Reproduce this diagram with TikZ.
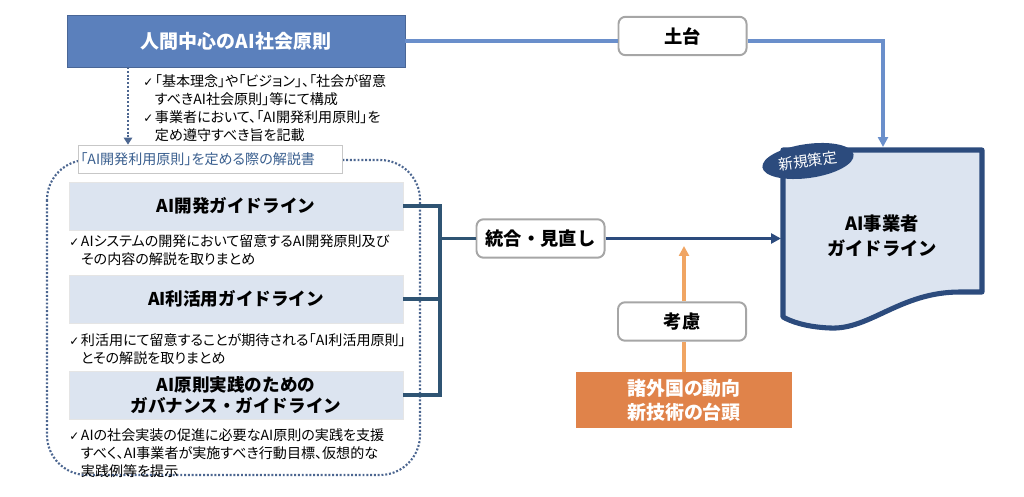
\documentclass[tikz,border=0pt]{standalone}
\usepackage{fontspec}
\setmainfont{Noto Sans CJK JP}
\newfontfamily\notejp{Noto Sans CJK JP}[RawFeature=+palt]
\newfontfamily\symfont{DejaVu Sans}
\usetikzlibrary{arrows.meta,shapes.geometric}
\definecolor{titleblue}{HTML}{5B80BC}
\definecolor{lineblue}{HTML}{6A8FCB}
\definecolor{paleblue}{HTML}{DCE4F0}
\definecolor{navy}{HTML}{2C4B7D}
\definecolor{bracketblue}{HTML}{2F5473}
\definecolor{labelblue}{HTML}{3A5F8F}
\definecolor{boxgray}{HTML}{A6A6A6}
\definecolor{orangefill}{HTML}{E0834A}
\definecolor{orangeline}{HTML}{F0A563}
\newcommand{\chk}{{\symfont\fontsize{8.5}{9}\selectfont ✓}\kern1.2pt}
\newcommand{\notefont}{\notejp\fontsize{10}{12.9}\selectfont}
\tikzset{
	tagbox/.style={draw=boxgray, line width=1.4pt, rounded corners=5pt, fill=white,
		minimum width=3.2cm, minimum height=0.96cm, font=\bfseries\fontsize{13}{15}\selectfont},
	guidebox/.style={fill=paleblue, draw=black!10, line width=0.5pt, minimum width=8.35cm,
		minimum height=1.2cm, align=center, font=\bfseries\fontsize{12.5}{15.5}\selectfont},
	note/.style={anchor=west, align=left, inner sep=0pt, font=\notefont},
	frameline/.style={draw=navy!85, line width=1.5pt, dash pattern=on 1.4pt off 1.3pt},
	tip/.style={-{Triangle[length=7pt,width=7pt]}}
}

\begin{document}
\begin{tikzpicture}[x=0.025cm, y=-0.025cm]
	\useasboundingbox (0,0) rectangle (1024,497);
	% left side
	\node [fill=titleblue, draw=titleblue!80!black, line width=0.4pt, text=white, minimum width=8.45cm,
		minimum height=1.3cm, font=\bfseries\fontsize{13.5}{16}\selectfont] (ai) at (236,41) {人間中心のAI社会原則};
	\node [note] (ainote) at (143,108) {\chk{}「基本理念」や「ビジョン」、「社会が留意\\
		\phantom{\chk{}}すべきAI社会原則」等にて構成\\
		\chk{}事業者において、「AI開発利用原則」を\\
		\phantom{\chk{}}定め遵守すべき旨を記載};
	\draw [frameline, rounded corners=1cm] (47,160) rectangle (420,475);
	\node [fill=white, draw=black!22, line width=0.5pt, text width=6.5cm, minimum height=0.7cm,
		inner xsep=0.05cm, align=left, text=labelblue, font=\notejp\fontsize{10}{12}\selectfont] (manual) at (210.5,159) {「AI開発利用原則」を定める際の解説書};
	\coordinate (aidown) at (128,67);
	\draw [frameline, -{Triangle[length=5pt,width=6pt]}] (aidown) -- (aidown |- manual.north);

	\node [guidebox] (dev) at (236,206) {AI開発ガイドライン};
	\node [note] (devnote) at (69,250) {\chk{}AIシステムの開発において留意するAI開発原則及び\\
		\phantom{\chk{}}その内容の解説を取りまとめ};
	\node [guidebox] (use) at (236,299) {AI利活用ガイドライン};
	\node [note] (usenote) at (69,349) {\chk{}利活用にて留意することが期待される「AI利活用原則」\\
		\phantom{\chk{}}とその解説を取りまとめ};
	\node [guidebox] (gov) at (236,395) {AI原則実践のための\\ガバナンス・ガイドライン};
	\node [note] (govnote) at (69,453) {\chk{}AIの社会実装の促進に必要なAI原則の実践を支援\\
		\phantom{\chk{}}すべく、AI事業者が実施すべき行動目標、仮想的な\\
		\phantom{\chk{}}実践例等を提示};

	% middle
	\node [tagbox] (merge) at (540.5,238.5) {統合・見直し};
	\node [tagbox] (base) at (682.5,36) {土台};
	\node [tagbox] (kouryo) at (682,321.5) {考慮};
	\node [fill=orangefill, text=white, minimum width=5.4cm, minimum height=1.4cm, align=center,
		font=\bfseries\fontsize{13.5}{17}\selectfont] (trend) at (684,400) {諸外国の動向\\新技術の台頭};

	% right document
	\draw [fill=paleblue, draw=navy, line width=3.6pt, line join=round]
		(783,150) -- (982,150) -- (982,292) -- (960,292)
		.. controls (900,292) and (870,330) .. (830,328)
		.. controls (805,327) and (790,321) .. (783,317) -- cycle;
	\node [font=\bfseries\fontsize{13}{18}\selectfont, align=center] (doc) at (882,236) {AI事業者\\ガイドライン};
	\node [ellipse, fill=navy, text=white, minimum width=2.3cm, minimum height=0.85cm, inner sep=1pt,
		rotate=8, font=\fontsize{10.5}{12}\selectfont] (newtag) at (808,161) {新規策定};
	\coordinate (docleft) at (781,238.5);
	\coordinate (doctop) at (883,147);
	\coordinate (bk) at (440,238.5);
	\coordinate (consider) at (684,246);

	% connectors
	\draw [lineblue, line width=2.6pt] (ai.east) -- (ai.east -| base.west);
	\draw [lineblue, line width=2.6pt, tip] (ai.east -| base.east) -| (doctop);
	\draw [bracketblue, line width=2.7pt] (dev.east) -| (bk);
	\draw [bracketblue, line width=2.7pt] (gov.east) -| (bk);
	\draw [bracketblue, line width=2.7pt] (use.east) -- (use.east -| bk);
	\draw [bracketblue, line width=2.7pt] (bk) -- (merge.west);
	\draw [navy, line width=2.5pt, tip] (merge.east) -- (docleft);
	\draw [orangeline, line width=2.5pt] (trend.north) -- (trend.north |- kouryo.south);
	\draw [orangeline, line width=2.5pt, tip] (trend.north |- kouryo.north) -- (consider);
\end{tikzpicture}
\end{document}
